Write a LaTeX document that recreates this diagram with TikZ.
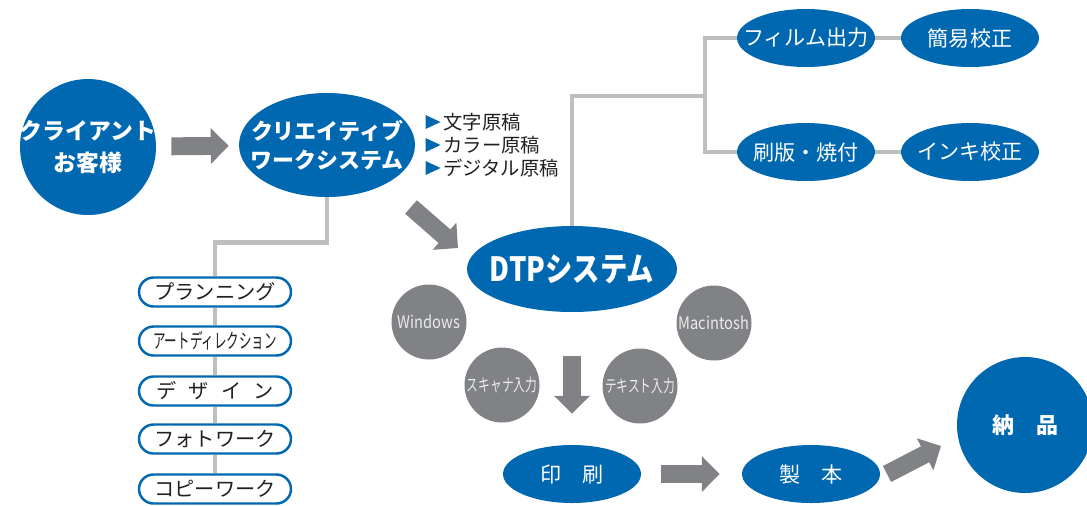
\documentclass[tikz,border=0pt]{standalone}
\usepackage{fontspec}
\setmainfont{Noto Sans CJK JP}
\usetikzlibrary{shapes.geometric,arrows.meta}
\definecolor{dtpblue}{HTML}{0067B1}
\definecolor{dtpgray}{HTML}{808285}
\definecolor{linkgray}{HTML}{BCBEC0}
\definecolor{inkblack}{HTML}{231F20}
\newcommand{\zw}[1]{\makebox[0pt]{#1}}

\begin{document}
\begin{tikzpicture}[x=0.02cm,y=-0.02cm,
    blob/.style={ellipse,fill=dtpblue,text=white,inner sep=0pt,align=center,font=\fontsize{12}{13}\selectfont},
    smallblob/.style={blob,minimum width=2.76cm,minimum height=1.16cm},
    disc/.style={circle,fill=dtpgray,text=white!92!black,minimum size=1.5cm,inner sep=0pt,font=\fontsize{9.8}{11}\selectfont},
    pill/.style={rectangle,rounded corners=0.29cm,draw=dtpblue,line width=1.4pt,fill=white,text=inkblack,
      minimum width=3.04cm,minimum height=0.58cm,inner sep=0pt,font=\fontsize{11.5}{12}\selectfont},
    memo/.style={anchor=west,inner sep=0pt,text=inkblack,font=\fontsize{11}{13}\selectfont},
    bullet/.style={isosceles triangle,isosceles triangle stretches,fill=dtpblue,inner sep=0pt,
      minimum width=0.28cm,minimum height=0.3cm},
    link/.style={draw=linkgray,line width=2.8pt},
    fat/.style={draw=dtpgray,line width=10.2pt,-{Triangle[length=10.2pt,width=19.9pt]}}]
        \useasboundingbox (0,0) rectangle (1087,505);
        % main flow
        \node[blob,circle,minimum size=2.72cm,font=\bfseries\fontsize{13}{18}\selectfont] (client) at (88,147) {\zw{クライアント}\\\zw{お客様}};
        \node[blob,minimum width=3.52cm,minimum height=2.08cm,font=\bfseries\fontsize{12.5}{16.5}\selectfont] (creative) at (327,145) {\zw{クリエイティブ}\\\zw{ワークシステム}};
        \node[blob,minimum width=4.2cm,minimum height=1.72cm,font=\bfseries\fontsize{19}{20}\selectfont] (dtp) at (572,269) {\zw{\scalebox{0.82}[1]{DTPシステム}}};
        \node[smallblob] (print) at (572,474) {\zw{印　刷}};
        \node[smallblob] (bind) at (811,474) {\zw{製　本}};
        \node[blob,circle,minimum size=2.72cm,font=\bfseries\fontsize{12.5}{14}\selectfont] (deliver) at (1025,425) {\zw{納　品}};
        % originals
        \node[bullet] (mark1) at (430,122) {};
        \node[bullet] (mark2) at (430,145) {};
        \node[bullet] (mark3) at (430,168) {};
        \node[memo] (moji) at (443,122) {文字原稿};
        \node[memo] (color) at (443,145) {カラー原稿};
        \node[memo] (digital) at (443,168) {デジタル原稿};
        % creative work
        \node[pill] (plan) at (215,292) {プランニング};
        \node[pill] (artdir) at (215,341) {\scalebox{0.62}[1]{アートディレクション}};
        \node[pill] (design) at (215,391) {デ\hspace{0.6em}ザ\hspace{0.6em}イ\hspace{0.6em}ン};
        \node[pill] (photo) at (215,439) {フォトワーク};
        \node[pill] (copy) at (215,489) {コピーワーク};
        % dtp
        \node[disc] (win) at (429,322) {\zw{\scalebox{0.85}[1]{Windows}}};
        \node[disc] (mac) at (714,323) {\zw{\scalebox{0.85}[1]{Macintosh}}};
        \node[disc] (scan) at (502,385) {\zw{\scalebox{0.68}[1]{スキャナ入力}}};
        \node[disc] (typing) at (640,386) {\zw{\scalebox{0.68}[1]{テキスト入力}}};
        % output
        \node[smallblob] (film) at (806,38) {\zw{フィルム出力}};
        \node[smallblob] (proof) at (970,38) {\zw{簡易校正}};
        \node[smallblob] (plate) at (806,152) {\zw{刷版・焼付}};
        \node[smallblob] (ink) at (970,152) {\zw{インキ校正}};
        \coordinate (fork) at (705,96);
        \draw[link] (creative.south) -- ++(0,45) -| (plan.north);
        \draw[link] (plan) -- (artdir) -- (design) -- (photo) -- (copy);
        \draw[link] (dtp.north) |- (fork);
        \draw[link] (film.west) -| (fork) |- (plate.west);
        \draw[link] (film) -- (proof);
        \draw[link] (plate) -- (ink);
        % block arrows
        \coordinate (tailA) at (411,207);
        \coordinate (tipA) at (458,248);
        \coordinate (tailB) at (887,474);
        \coordinate (tipB) at (941,446);
        \draw[fat,shorten <=0.3cm,shorten >=0.2cm] (client) -- (creative);
        \draw[fat] (tailA) -- (tipA);
        \draw[fat,shorten <=0.88cm,shorten >=0.62cm] (dtp) -- (print);
        \draw[fat,shorten <=0.4cm,shorten >=0.44cm] (print) -- (bind);
        \draw[fat] (tailB) -- (tipB);
      \end{tikzpicture}
\end{document}
